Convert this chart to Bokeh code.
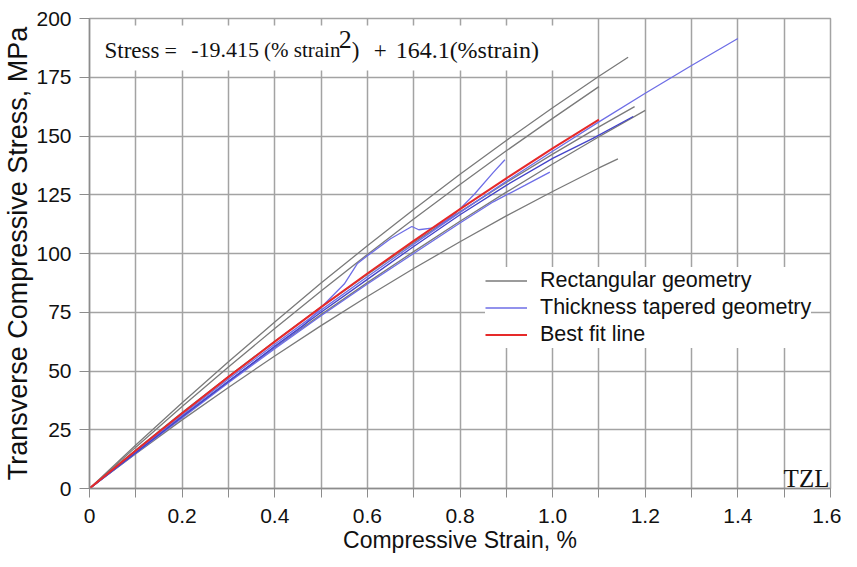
from bokeh.plotting import figure
from bokeh.models import (Range1d, FixedTicker, CustomJSTickFormatter, Legend,
                          LegendItem, Label, BoxAnnotation)
from bokeh.embed import file_html
from bokeh.resources import INLINE

# ---------------- data ----------------
x_ticks = [0, 0.2, 0.4, 0.6, 0.8, 1.0, 1.2, 1.4, 1.6]
x_minor = [0.1, 0.3, 0.5, 0.7, 0.9, 1.1, 1.3, 1.5]
y_ticks = [0, 25, 50, 75, 100, 125, 150, 175, 200]

# Rectangular geometry (gray)
rect1_strain = [0, 0.1, 0.2, 0.3, 0.4, 0.5, 0.6, 0.7, 0.8, 0.9, 1.0, 1.1, 1.163]
rect1_stress = [0, 18.5, 36.5, 53.9, 70.9, 87.4, 103.3, 118.7, 133.7, 148.1, 162.0, 175.4, 183.5]
rect2_strain = [0, 0.1, 0.2, 0.3, 0.4, 0.5, 0.6, 0.7, 0.8, 0.9, 1.0, 1.1]
rect2_stress = [0, 17.6, 34.9, 51.7, 68.1, 84.0, 99.6, 114.7, 129.4, 143.7, 157.5, 171.0]
rect3_strain = [0, 0.1, 0.2, 0.3, 0.4, 0.5, 0.6, 0.7, 0.8, 0.9, 1.0, 1.1, 1.2]
rect3_stress = [0, 15.6, 30.8, 45.6, 60.0, 74.0, 87.6, 100.8, 113.7, 126.1, 138.1, 149.7, 160.9]
rect4_strain = [0, 0.1, 0.2, 0.3, 0.4, 0.5, 0.6, 0.7, 0.8, 0.9, 1.0, 1.1, 1.177]
rect4_stress = [0, 16.4, 32.3, 47.7, 62.7, 77.2, 91.1, 104.7, 117.7, 130.2, 142.3, 153.9, 162.5]
rect5_strain = [0, 0.1, 0.2, 0.3, 0.4, 0.5, 0.6, 0.7, 0.8, 0.9, 1.0, 1.1, 1.141]
rect5_stress = [0, 14.8, 29.2, 43.0, 56.4, 69.3, 81.7, 93.6, 105.0, 116.0, 126.4, 136.4, 140.3]

# Thickness tapered geometry (blue)
taper1_strain = [0, 0.1, 0.2, 0.3, 0.4, 0.5, 0.6, 0.7, 0.8, 0.9, 1.0, 1.1, 1.2, 1.3, 1.4]
taper1_stress = [0, 15.9, 31.4, 46.6, 61.4, 75.9, 90.1, 104.0, 117.5, 130.7, 143.5, 156.0, 168.2, 180.0, 191.5]
taper2_strain = [0, 0.1, 0.2, 0.3, 0.4, 0.46, 0.5, 0.55, 0.578, 0.6, 0.65, 0.696, 0.711, 0.743, 0.77, 0.793, 0.83, 0.872, 0.897]
taper2_stress = [0, 15.3, 30.6, 45.6, 60.2, 68.8, 77.0, 87.0, 95.6, 99.0, 106.3, 111.5, 110.1, 110.9, 114.0, 117.6, 125.0, 134.5, 139.9]
taper3_strain = [0, 0.1, 0.2, 0.3, 0.4, 0.5, 0.6, 0.7, 0.8, 0.872, 0.94, 0.994]
taper3_stress = [0, 15.0, 30.0, 45.0, 59.5, 73.5, 87.0, 100.0, 113.0, 122.0, 129.0, 134.6]
taper4_strain = [0, 0.1, 0.2, 0.3, 0.4, 0.5, 0.6, 0.7, 0.8, 0.9, 1.0, 1.087, 1.174]
taper4_stress = [0, 15.2, 30.5, 45.5, 60.5, 75.0, 89.0, 103.0, 116.5, 129.0, 140.5, 149.0, 158.3]

# Best fit line (red)
fit_strain = [0, 0.1, 0.2, 0.3, 0.4, 0.5, 0.6, 0.7, 0.8, 0.9, 1.0, 1.1]
fit_stress = [0, 16.2, 32.0, 47.5, 62.5, 77.2, 91.5, 105.4, 118.9, 132.0, 144.7, 157.0]

legend_labels = ["Rectangular geometry", "Thickness tapered geometry", "Best fit line"]
x_title = "Compressive Strain, %"
y_title = "Transverse Compressive Stress, MPa"

# ---------------- figure ----------------
GRID = "#a3a3a3"
p = figure(width=841, height=559, x_range=Range1d(0, 1.6), y_range=Range1d(0, 200),
           output_backend="svg", toolbar_location=None,
           min_border_left=87, min_border_right=11, min_border_top=18, min_border_bottom=71)
p.background_fill_color = "white"
p.border_fill_color = "white"
p.outline_line_color = GRID
p.outline_line_width = 1.5

p.xaxis.ticker = FixedTicker(ticks=x_ticks, minor_ticks=x_minor)
p.yaxis.ticker = FixedTicker(ticks=y_ticks, minor_ticks=[])
p.xaxis.formatter = CustomJSTickFormatter(code="return tick == 0 ? '0' : tick.toFixed(1);")

p.xgrid.grid_line_color = GRID
p.xgrid.grid_line_width = 1.5
p.xgrid.minor_grid_line_color = GRID
p.xgrid.minor_grid_line_width = 1.5
p.ygrid.grid_line_color = GRID
p.ygrid.grid_line_width = 1.5

for ax in (p.xaxis, p.yaxis):
    ax.axis_line_color = "#8c8c8c"
    ax.axis_line_width = 1.5
    ax.major_tick_line_color = "#8c8c8c"
    ax.minor_tick_line_color = "#8c8c8c"
    ax.major_tick_in = 0
    ax.minor_tick_in = 0
    ax.major_label_text_font = "Liberation Sans"
    ax.major_label_text_font_size = "21px"
    ax.major_label_text_color = "#111111"
    ax.axis_label_text_font = "Liberation Sans"
    ax.axis_label_text_font_style = "normal"
    ax.axis_label_text_color = "#111111"

p.xaxis.major_tick_out = 9
p.xaxis.minor_tick_out = 9
p.xaxis.major_label_standoff = 11
p.xaxis.axis_label = x_title
p.xaxis.axis_label_text_font_size = "23px"
p.xaxis.axis_label_standoff = 1

p.yaxis.major_tick_out = 10
p.yaxis.minor_tick_out = 0
p.yaxis.major_label_standoff = 8
p.yaxis.axis_label = y_title
p.yaxis.axis_label_text_font_size = "27px"
p.yaxis.axis_label_standoff = 0

GRAY = "#7a7a7a"
BLUE = "#6e6ee6"
DBLUE = "#4343c8"
RED = "#e62a2a"

rect_curves = [(rect1_strain, rect1_stress), (rect2_strain, rect2_stress),
               (rect3_strain, rect3_stress), (rect4_strain, rect4_stress),
               (rect5_strain, rect5_stress)]
taper_curves = [(taper1_strain, taper1_stress, BLUE), (taper2_strain, taper2_stress, BLUE),
                (taper3_strain, taper3_stress, BLUE), (taper4_strain, taper4_stress, DBLUE)]

rect_r = [p.line(xs, ys, line_color=GRAY, line_width=1.3) for xs, ys in rect_curves]
taper_r = [p.line(xs, ys, line_color=c, line_width=1.3) for xs, ys, c in taper_curves]
fit_r = p.line(fit_strain, fit_stress, line_color=RED, line_width=2.0)

legend = Legend(items=[LegendItem(label=legend_labels[0], renderers=[rect_r[0]]),
                       LegendItem(label=legend_labels[1], renderers=[taper_r[0]]),
                       LegendItem(label=legend_labels[2], renderers=[fit_r])],
                location=(396, 140))
legend.border_line_color = None
legend.background_fill_color = "white"
legend.background_fill_alpha = 1.0
legend.label_text_font = "Liberation Sans"
legend.label_text_font_size = "21.5px"
legend.label_text_color = "#111111"
legend.glyph_width = 42
legend.glyph_height = 27
legend.label_height = 27
legend.label_standoff = 13
legend.spacing = 0
legend.padding = 8
legend.margin = 0
p.add_layout(legend)

# white box behind the equation
p.add_layout(BoxAnnotation(left=0.01, right=1.012, bottom=177.9, top=197.0,
                           fill_color="white", fill_alpha=1.0, line_color=None))

SERIF = "Liberation Serif"
eq_parts = [("Stress", 0.0323, 186.4, "23px"),
            ("=", 0.162, 186.4, "22px"),
            ("-19.415", 0.2196, 186.4, "22px"),
            ("(% strain", 0.3768, 186.4, "21px"),
            ("2", 0.5383, 191.1, "26px"),
            (")", 0.5663, 186.4, "23px"),
            ("+", 0.6137, 186.4, "23px"),
            ("164.1(%strain)", 0.6610, 186.4, "24px")]
for txt, xx, yy, fs in eq_parts:
    p.add_layout(Label(x=xx, y=yy, text=txt, text_font=SERIF, text_font_size=fs,
                       text_color="#111111", text_baseline="middle"))

p.add_layout(Label(x=1.5977, y=-1.5, text="TZL", text_font=SERIF, text_font_size="25px",
                   text_color="#111111", text_align="right", text_baseline="bottom"))

open("out.html", "w").write(file_html(p, INLINE))
